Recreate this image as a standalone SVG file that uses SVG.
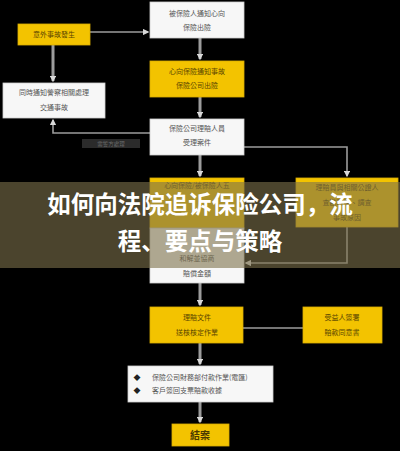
<svg xmlns="http://www.w3.org/2000/svg" width="400" height="451" viewBox="0 0 400 451">
<defs>
<style>
.y{fill:#f3c300;stroke:#d9ad00;stroke-width:0.8}
.w{fill:#f7f7f7;stroke:#cfcfcf;stroke-width:0.8}
.t{font-family:"Noto Sans CJK TC","Noto Sans CJK SC",sans-serif;font-size:7px;text-anchor:middle}
.ty{fill:#5a4600}
.tw{fill:#555}
.c{fill:none;stroke:#9c9c9c;stroke-width:3}
.c2{fill:none;stroke:#9c9c9c;stroke-width:1.6}
</style>
<marker id="a" viewBox="0 0 10 10" refX="8" refY="5" markerWidth="2.2" markerHeight="2.2" orient="auto" markerUnits="strokeWidth">
<path d="M0,0 L10,5 L0,10 Z" fill="#d8d8d8"/>
</marker>
<marker id="b" viewBox="0 0 10 10" refX="8" refY="5" markerWidth="4" markerHeight="4" orient="auto" markerUnits="strokeWidth">
<path d="M0,0 L10,5 L0,10 Z" fill="#d8d8d8"/>
</marker>
</defs>
<rect width="400" height="451" fill="#000"/>
<g id="connectors">
<path class="c2" d="M90,32 H148" marker-end="url(#b)"/>
<path class="c" d="M200,38 V59" marker-end="url(#a)"/>
<path class="c" d="M53,45 V81" marker-end="url(#a)"/>
<path class="c" d="M200,97 V117" marker-end="url(#a)"/>
<path class="c2" d="M150,133 H53 V120" marker-end="url(#b)"/>
<path class="c2" d="M244,147 H347 V176" marker-end="url(#b)"/>
<path class="c" d="M200,155 V176" marker-end="url(#a)"/>
<path class="c2" d="M347,227 V263 H246" marker-end="url(#b)"/>
<path class="c" d="M200,283 V305" marker-end="url(#a)"/>
<path class="c2" d="M243,328 H303"/>
<path class="c" d="M200,343 V364" marker-end="url(#a)"/>
<path class="c" d="M200,402 V422" marker-end="url(#a)"/>
</g>
<g id="n1"><rect class="w" x="150" y="2" width="94" height="36"/><text class="t tw" x="197" y="16">被保險人通知心向</text><text class="t tw" x="197" y="30">保險出險</text></g>
<g id="n2"><rect class="y" x="18" y="24" width="72" height="21"/><text class="t ty" x="54" y="37">意外事故發生</text></g>
<g id="n3"><rect class="y" x="150" y="61" width="94" height="36"/><text class="t ty" x="197" y="74">心向保險通知事故</text><text class="t ty" x="197" y="88">保險公司出險</text></g>
<g id="n4"><rect class="w" x="3" y="83" width="102" height="35"/><text class="t tw" x="54" y="95">同時通知警察相關處理</text><text class="t tw" x="54" y="110">交通事故</text></g>
<g id="n5"><rect class="w" x="150" y="119" width="94" height="36"/><text class="t tw" x="197" y="131">保險公司理賠人員</text><text class="t tw" x="197" y="145">受理案件</text></g>
<g id="lbl"><rect x="82" y="139" width="58" height="9" fill="#2b2b2b"/><text class="t" x="111" y="146" style="font-size:5.5px;fill:#6a6a6a">需警方處理</text></g>
<g id="n6"><rect class="y" x="150" y="178" width="94" height="50"/><text class="t ty" x="197" y="188">心向保險/被保險人五</text></g>
<g id="n7"><rect class="w" x="150" y="228" width="94" height="55"/><text class="t tw" x="197" y="261">和解並協商</text><text class="t tw" x="197" y="276">賠償金額</text></g>
<g id="n8"><rect class="y" x="296" y="178" width="102" height="49"/><text class="t ty" x="347" y="190">理賠員與相關公證人</text><text class="t ty" x="347" y="205">查勘現場、調查</text><text class="t ty" x="347" y="220">事故原因</text></g>
<g id="n9"><rect class="y" x="150" y="307" width="93" height="36"/><text class="t ty" x="197" y="320">理賠文件</text><text class="t ty" x="197" y="335">送核核定作業</text></g>
<g id="n10"><rect class="y" x="303" y="307" width="79" height="36"/><text class="t ty" x="342" y="320">受益人簽署</text><text class="t ty" x="342" y="335">賠款同意書</text></g>
<g id="n11"><rect class="w" x="128" y="366" width="145" height="36"/>
<text class="t tw" x="137" y="380" style="text-anchor:middle;fill:#222">◆</text><text class="t tw" x="152" y="380" style="text-anchor:start">保險公司財務部付款作業(電匯)</text>
<text class="t tw" x="137" y="393" style="text-anchor:middle;fill:#222">◆</text><text class="t tw" x="152" y="393" style="text-anchor:start">客戶簽回支票賠款收據</text></g>
<g id="n12"><rect class="y" x="172" y="424" width="57" height="22"/><text class="t" x="200" y="439" style="font-size:10px;font-weight:bold;fill:#4a3a00">結案</text></g>
<g id="banner">
<rect x="0" y="182" width="400" height="86" fill="rgb(125,113,75)" fill-opacity="0.6"/>
<text x="200" y="213" style="font-family:'Noto Sans CJK SC',sans-serif;font-size:23.5px;font-weight:bold;fill:#fff;text-anchor:middle">如何向法院追诉保险公司，流</text>
<text x="200" y="250" style="font-family:'Noto Sans CJK SC',sans-serif;font-size:23.5px;font-weight:bold;fill:#fff;text-anchor:middle">程、要点与策略</text>
</g>
</svg>
